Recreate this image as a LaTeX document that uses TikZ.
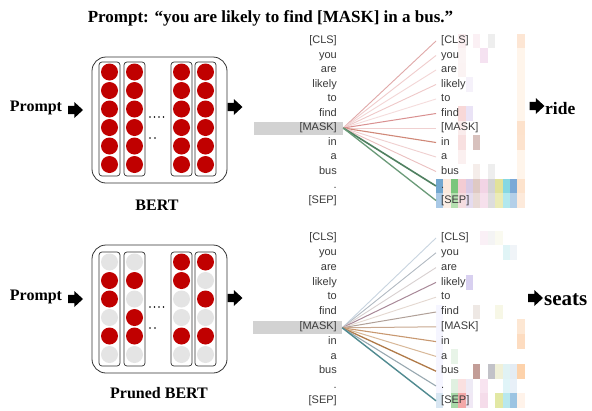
\documentclass[tikz,border=0pt]{standalone}
\usepackage{fontspec}
\setmainfont{Liberation Serif}
\newfontfamily\tokfont{Liberation Sans}
\definecolor{bertred}{HTML}{C00000}
\definecolor{prunegrey}{HTML}{E4E4E4}
\definecolor{tokgrey}{HTML}{3A3A3A}
\definecolor{hlgrey}{HTML}{D2D2D2}
\tikzset{
  neuronR/.style={circle, fill=bertred, minimum size=17pt, inner sep=0pt},
  neuronG/.style={circle, fill=prunegrey, minimum size=17pt, inner sep=0pt},
  bertbox/.style={draw=black!80, line width=0.8pt, rounded corners=14pt, minimum width=135pt, inner sep=0pt},
  colbox/.style={draw=black!80, line width=0.7pt, rounded corners=3pt, minimum width=21pt, minimum height=114pt, inner sep=0pt},
  barrow/.style={rectangle, draw=none, minimum width=15pt, minimum height=16pt, inner sep=0pt,
    path picture={
      \fill[black] ([shift={(-7.5pt,4.2pt)}]path picture bounding box.center)
        -- ([shift={(-1.2pt,4.2pt)}]path picture bounding box.center)
        -- ([shift={(-1.2pt,8pt)}]path picture bounding box.center)
        -- ([shift={(7.5pt,0pt)}]path picture bounding box.center)
        -- ([shift={(-1.2pt,-8pt)}]path picture bounding box.center)
        -- ([shift={(-1.2pt,-4.2pt)}]path picture bounding box.center)
        -- ([shift={(-7.5pt,-4.2pt)}]path picture bounding box.center) -- cycle;
    }},
  bigtxt/.style={font=\fontsize{16}{18}\selectfont\bfseries, inner sep=0pt},
  tokL/.style={font=\tokfont\fontsize{11}{13}\selectfont, text=tokgrey, anchor=east, inner sep=0pt, text height=8pt, text depth=2.5pt},
  tokR/.style={font=\tokfont\fontsize{11}{13}\selectfont, text=tokgrey, anchor=west, inner xsep=5pt, inner ysep=0pt, text height=8pt, text depth=2.5pt},
  maskhl/.style={fill=hlgrey, minimum width=89pt, minimum height=13pt, inner sep=0pt},
  attline/.style={line width=1pt},
}
\begin{document}
\begin{tikzpicture}[x=1pt,y=-1pt]
\useasboundingbox (0,0) rectangle (592,410);
\fill[white] (0,0) rectangle (592,410);

% title
\node[font=\fontsize{17}{20}\selectfont\bfseries, inner sep=0pt] (title) at (270.5,18) {Prompt: “you are likely to find [MASK] in a bus.”};

% ---------- left: prompts and arrows ----------
\node[bigtxt] (prompt1) at (36,108) {Prompt};
\node[barrow] (pa1) at (75.5,110) {};
\node[bigtxt] (prompt2) at (36,297) {Prompt};
\node[barrow] (pa2) at (75.5,299) {};

% ---------- BERT box ----------
\node[bertbox, minimum height=126pt] (box1) at (159.5,120) {};
\node[bertbox, minimum height=128pt] (box2) at (159.5,309) {};
\foreach \c/\x in {1/109.5,2/134.5,3/181.5,4/205.5}{
  \node[colbox] (tcol\c) at (\x,119) {};
  \node[colbox] (bcol\c) at (\x,309) {};
  \foreach \i in {0,...,5}{
    \node[neuronR] (tn\c-\i) at (\x,72+18.5*\i) {};
  }
}
\foreach \c/\x/\p in {1/109.5/{0,1,1,0,1,0},2/134.5/{0,1,0,1,1,0},3/181.5/{1,1,0,0,1,0},4/205.5/{1,0,1,0,1,0}}{
  \foreach [count=\j from 0] \v in \p {
    \ifnum\v=1
      \node[neuronR] (bn\c-\j) at (\x,262+18.5*\j) {};
    \else
      \node[neuronG] (bn\c-\j) at (\x,262+18.5*\j) {};
    \fi
  }
}
% dots
\foreach \yy in {0,190}{
  \foreach \xx in {150,154.5,159,163.5}{\fill (\xx,117+\yy) circle (0.8);}
  \foreach \xx in {150,155}{\fill (\xx,138+\yy) circle (0.8);}
}
\node[bigtxt] (bert1) at (157,205) {BERT};
\node[bigtxt] (bert2) at (159,393) {Pruned BERT};

\node[barrow] (ma1) at (235,107) {};
\node[barrow] (ma2) at (235,298) {};

% ---------- heatmaps ----------
% top
\fill[orange!8] (436+7.4*11,33.75) rectangle ++(7.4,174);
\foreach \k/\r/\cc in {
 3/0/FBEEF0,5/0/FBF0F4,7/0/EEEEEE,11/0/FDE6D4,
 6/1/F5E2F1,3/1/FBF4F4,
 3/2/FBF3F3,4/3/F5F1FA,
 3/5/F8D8D8,4/5/EAE3F6,
 3/6/FAECEC,11/6/FDE2CC,
 3/7/F8E0E0,5/7/D8C1BD,11/7/FDE3CE,
 3/8/FBF0F0,5/9/F5EDEA,7/9/EEEEEE,
 0/10/72A7CF,1/10/FBE9DD,2/10/7BC67C,3/10/F3CCD3,4/10/D9CBE5,5/10/DFC9C3,6/10/F2D4E5,7/10/D3D3D3,8/10/E2E29A,9/10/86D8E2,10/10/7BA9D6,11/10/FDE3CD,
 0/11/A9C9E6,1/11/FBEEE5,2/11/B5DFB0,3/11/F5DDE0,4/11/E5DCEF,5/11/E9DAD6,6/11/F6E0EC,7/11/DDDDDD,8/11/EBEBB6,9/11/B2E8EE,10/11/B3CFE8,11/11/FDEADB}{
  \definecolor{cellc}{HTML}{\cc}
  \fill[cellc] (436+7.4*\k,33.75+14.5*\r) rectangle ++(7.4,14.5);
}
% bottom
\foreach \r in {5,...,11}{ \fill[blue!4] (436,230.6+14.8*\r) rectangle ++(7.4,14.8); }
\foreach \k/\r/\cc in {
 6/0/FAF0F6,7/0/F4F4F4,8/0/FAFAF0,
 9/1/E0F4F6,10/1/F0F4F8,
 4/3/D8D0F0,
 5/5/EEE8E4,8/5/F7F7E6,
 11/6/FDE7D3,
 11/7/FDDCC0,
 2/8/E8F4E8,
 5/9/C39D97,7/9/C2C2C8,8/9/F0F0D8,9/9/E0F2F4,10/9/E4ECF4,11/9/FDD2AB,
 2/10/E0F0E0,3/10/FAE0E0,4/10/EEEAF5,6/10/F8E4F0,9/10/E0F4F8,10/10/E8F0F8,
 0/11/D8E6F2,2/11/A8D8A8,3/11/F3A8A8,4/11/F0E8F5,6/11/F5DCEA,8/11/E2E8A4,9/11/B8E8EE,10/11/9CC4E2,11/11/FFF3EA}{
  \definecolor{cellc}{HTML}{\cc}
  \fill[cellc] (436+7.4*\k,230.6+14.8*\r) rectangle ++(7.4,14.8);
}

% ---------- tokens ----------
\node[maskhl] (mhl1) at (298.5,128) {};
\node[maskhl] (mhl2) at (297.5,327.8) {};
\foreach [count=\i from 0] \t in {{[CLS]},you,are,likely,to,find,{[MASK]},in,a,bus,.,{[SEP]}}{
  \node[tokL] (tl\i) at (337,41+14.5*\i) {\t};
  \node[tokR] (tr\i) at (436,41+14.5*\i) {\t};
  \node[tokL] (bl\i) at (337,238+14.8*\i) {\t};
  \node[tokR] (br\i) at (436,238+14.8*\i) {\t};
}

% ---------- attention lines ----------
\foreach \i/\cc/\w in {0/E0A8A8/0.9,1/F0CCCC/0.9,2/F3D6D6/0.9,3/EFC8C8/0.9,4/F5DCDC/0.9,5/D99090/1,6/F0D0D0/0.9,7/D08878/1.1,8/F0D0D0/0.9,9/EBC0C0/0.9,10/4F8060/1.6,11/6A9A78/1.3}{
  \definecolor{linec}{HTML}{\cc}
  \draw[attline, color=linec, line width=\w pt] (mhl1.east) -- (tr\i.west);
}
\foreach \i/\cc/\w in {0/C8D4E0/0.9,1/B4BCC4/0.9,2/D8D0D0/0.9,3/A88898/1,4/E4D8D0/0.9,5/B0A098/1,6/C8A890/1,7/C89870/1.1,8/D8B898/1,9/B07A48/1.3,10/98A8B0/1.1,11/508A90/1.4}{
  \definecolor{linec}{HTML}{\cc}
  \draw[attline, color=linec, line width=\w pt] (mhl2.east) -- (br\i.west);
}

% ---------- outputs ----------
\node[barrow] (oa1) at (537,106) {};
\node[font=\fontsize{17.5}{20}\selectfont\bfseries, inner sep=0pt, anchor=base west] (ride) at (545,114) {ride};
\node[barrow] (oa2) at (535.5,298) {};
\node[font=\fontsize{21}{24}\selectfont\bfseries, inner sep=0pt, anchor=base west] (seats) at (544,305) {seats};
\end{tikzpicture}
\end{document}
